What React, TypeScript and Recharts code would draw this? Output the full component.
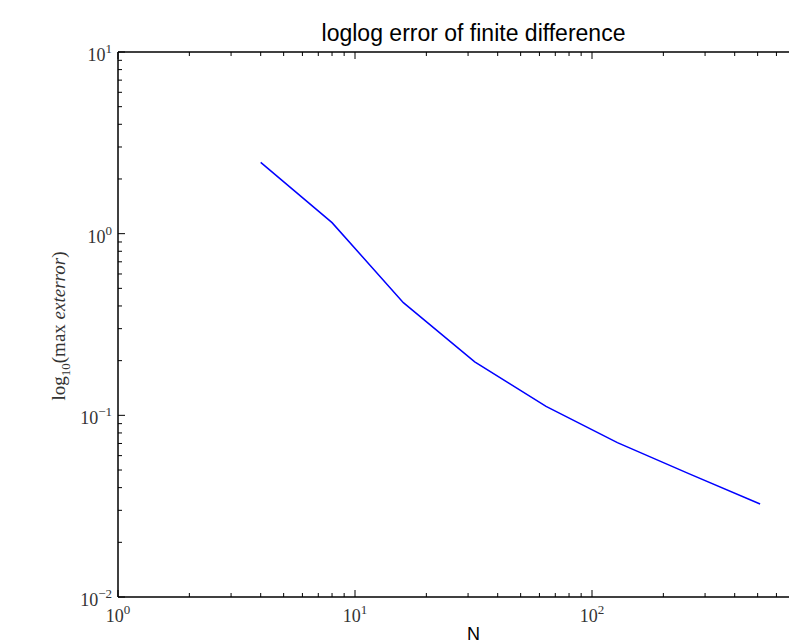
import React from "react";
import { LineChart, Line, XAxis, YAxis } from "recharts";

// ---- data ----
const gridSizes = [4, 8, 16, 32, 64, 128, 256, 512];
const maxErrors = [2.47, 1.15, 0.417, 0.197, 0.112, 0.0708, 0.0478, 0.0325];

// ---- ticks ----
const xMajorTicks = [1, 10, 100, 1000];
const xMajorExponents = ["0", "1", "2", "3"];
const yMajorTicks = [0.01, 0.1, 1, 10];
const yMajorExponents = ["\u22122", "\u22121", "0", "1"];
const minorMultipliers = [2, 3, 4, 5, 6, 7, 8, 9];

const minorsFor = (majors: number[]) => {
  const out: number[] = [];
  for (let i = 0; i < majors.length - 1; i++) {
    for (const m of minorMultipliers) out.push(+(majors[i] * m).toPrecision(6));
  }
  return out;
};

const xTicks = [...xMajorTicks, ...minorsFor(xMajorTicks)].sort((a, b) => a - b);
const yTicks = [...yMajorTicks, ...minorsFor(yMajorTicks)].sort((a, b) => a - b);

const data = gridSizes.map((n, i) => ({ n, err: maxErrors[i] }));

const SERIF = "'Liberation Serif', 'DejaVu Serif', serif";
const SANS = "'Liberation Sans', Arial, sans-serif";
const MAJOR_LEN = 7;
const MINOR_LEN = 4;
const VISIBLE_WIDTH = 789;

const majorIndex = (list: number[], v: number) =>
  list.findIndex((m) => Math.abs(m - v) / m < 1e-6);

const XTick = (props: any) => {
  const { x, y, payload, side } = props;
  const v = payload.value;
  const idx = majorIndex(xMajorTicks, v);
  const len = idx >= 0 ? MAJOR_LEN : MINOR_LEN;
  const dir = side === "bottom" ? -1 : 1;
  return (
    <g>
      <line x1={x} x2={x} y1={y} y2={y + dir * len} stroke="#000" strokeWidth={1} />
      {idx >= 0 && side === "bottom" && x + 20 < VISIBLE_WIDTH && (
        <text x={x} y={y + 25} textAnchor="middle" fontFamily={SERIF} fontSize={18} fill="#333">
          10
          <tspan dy={-8} fontSize={13}>
            {xMajorExponents[idx]}
          </tspan>
        </text>
      )}
    </g>
  );
};

const YTick = (props: any) => {
  const { x, y, payload, side } = props;
  const v = payload.value;
  const idx = majorIndex(yMajorTicks, v);
  const len = idx >= 0 ? MAJOR_LEN : MINOR_LEN;
  const dir = side === "left" ? 1 : -1;
  return (
    <g>
      <line x1={x} x2={x + dir * len} y1={y} y2={y} stroke="#000" strokeWidth={1} />
      {idx >= 0 && side === "left" && (
        <text x={x - 6} y={y + 9} textAnchor="end" fontFamily={SERIF} fontSize={18} fill="#333">
          10
          <tspan dy={-8} fontSize={13}>
            {yMajorExponents[idx]}
          </tspan>
        </text>
      )}
    </g>
  );
};

export default function App() {
  return (
    <div
      style={{
        position: "fixed",
        left: 0,
        top: 0,
        width: 789,
        height: 644,
        overflow: "hidden",
        background: "#fff",
      }}
    >
      <div style={{ position: "relative", width: 860, height: 644 }}>
        <LineChart width={860} height={644} data={data} margin={{ top: 0, right: 0, bottom: 0, left: 0 }}>
          <XAxis
            xAxisId="bottom"
            orientation="bottom"
            dataKey="n"
            type="number"
            scale="log"
            domain={[1, 1000]}
            allowDataOverflow
            ticks={xTicks}
            interval={0}
            height={47}
            tickSize={0}
            tickMargin={0}
            tickLine={false}
            axisLine={{ stroke: "#000", strokeWidth: 1.5 }}
            tick={<XTick side="bottom" />}
          />
          <XAxis
            xAxisId="top"
            orientation="top"
            dataKey="n"
            type="number"
            scale="log"
            domain={[1, 1000]}
            allowDataOverflow
            ticks={xTicks}
            interval={0}
            height={52}
            tickSize={0}
            tickMargin={0}
            tickLine={false}
            axisLine={{ stroke: "#000", strokeWidth: 1.5 }}
            tick={<XTick side="top" />}
          />
          <YAxis
            yAxisId="left"
            orientation="left"
            type="number"
            scale="log"
            domain={[0.01, 10]}
            allowDataOverflow
            ticks={yTicks}
            interval={0}
            width={118}
            tickSize={0}
            tickMargin={0}
            tickLine={false}
            axisLine={{ stroke: "#000", strokeWidth: 1.5 }}
            tick={<YTick side="left" />}
          />
          <YAxis
            yAxisId="right"
            orientation="right"
            type="number"
            scale="log"
            domain={[0.01, 10]}
            allowDataOverflow
            ticks={yTicks}
            interval={0}
            width={31}
            tickSize={0}
            tickMargin={0}
            tickLine={false}
            axisLine={{ stroke: "#000", strokeWidth: 1.5 }}
            tick={<YTick side="right" />}
          />
          <Line
            xAxisId="bottom"
            yAxisId="left"
            type="linear"
            dataKey="err"
            stroke="#0000ff"
            strokeWidth={1.5}
            dot={false}
            isAnimationActive={false}
          />
        </LineChart>
        <svg
          width={860}
          height={644}
          style={{ position: "absolute", left: 0, top: 0, pointerEvents: "none" }}
        >
          <text x={473.5} y={41} textAnchor="middle" fontFamily={SANS} fontSize={23} fill="#000">
            loglog error of finite difference
          </text>
          <text x={473.5} y={640} textAnchor="middle" fontFamily={SANS} fontSize={18} fill="#000">
            N
          </text>
          <text
            transform="translate(65 326) rotate(-90)"
            textAnchor="middle"
            fontFamily={SERIF}
            fontSize={19}
            fill="#333"
          >
            log
            <tspan dy={5} fontSize={13}>10</tspan>
            <tspan dy={-5}>(max </tspan>
            <tspan fontStyle="italic">exterror</tspan>
            <tspan>)</tspan>
          </text>
        </svg>
      </div>
    </div>
  );
}
